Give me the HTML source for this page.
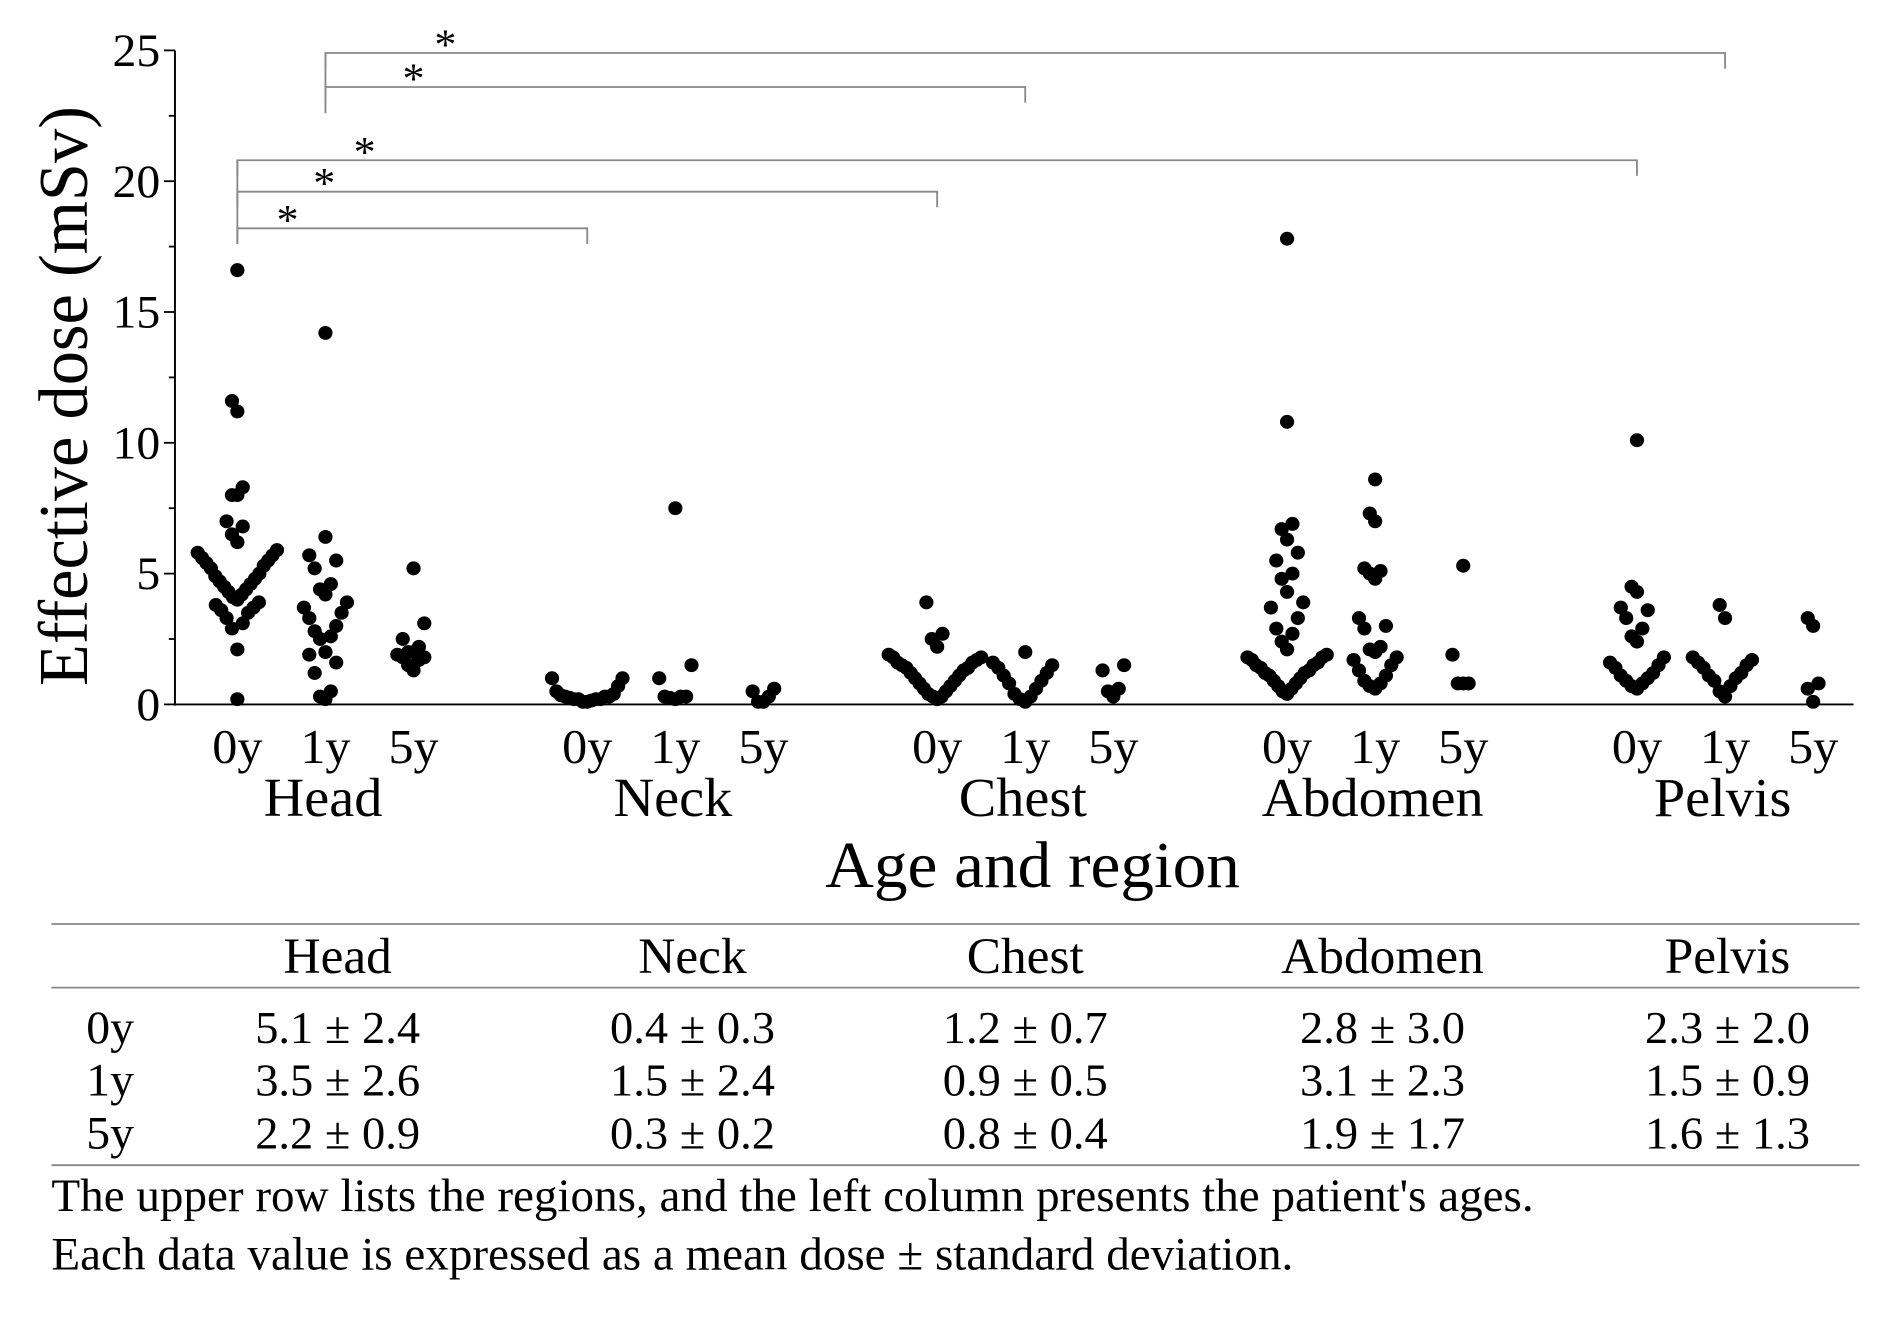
<!DOCTYPE html>
<html><head><meta charset="utf-8">
<style>
html,body{margin:0;padding:0;background:#fff;}
svg{display:block;font-family:"Liberation Serif",serif;}
</style></head>
<body>
<svg id="chart" width="1889" height="1320" viewBox="0 0 1544 1100" preserveAspectRatio="none" xmlns="http://www.w3.org/2000/svg">
<g id="axes"></g>
<g id="brackets" stroke="#888" stroke-width="1.5" fill="none"></g>
<g id="points"></g>
<g id="labels"></g>
<g id="table"></g>
</svg>
<script>
const regions = ["Head","Neck","Chest","Abdomen","Pelvis"];
const ages = ["0y","1y","5y"];
const yTicks = [0,5,10,15,20,25];
const head0 = [16.6,11.6,11.2,8.3,8.0,8.0,7.0,6.8,6.5,6.2,5.9,5.8,5.7,5.6,5.5,5.4,5.3,5.2,5.0,4.9,4.8,4.7,4.6,4.5,4.4,4.3,4.2,4.1,4.0,3.9,3.8,3.7,3.6,3.5,3.3,3.1,2.9,2.1,0.2];
const head1 = [14.2,6.4,5.7,5.5,5.2,4.6,4.4,4.2,3.9,3.7,3.5,3.3,3.0,2.8,2.6,2.5,2.0,1.9,1.6,1.2,0.5,0.3,0.2];
const head5 = [5.2,3.1,2.5,2.2,2.0,2.0,1.9,1.8,1.8,1.7,1.5,1.3];
const neck0 = [1.0,1.0,0.7,0.5,0.4,0.35,0.3,0.3,0.3,0.25,0.2,0.2,0.2,0.2,0.15,0.1,0.1];
const neck1 = [7.5,1.5,1.0,0.3,0.3,0.3,0.25,0.2];
const neck5 = [0.6,0.5,0.3,0.1,0.1];
const chest0 = [3.9,2.7,2.5,2.2,1.9,1.8,1.8,1.7,1.6,1.6,1.5,1.4,1.4,1.3,1.2,1.1,1.0,0.9,0.8,0.7,0.6,0.5,0.4,0.3,0.3,0.2];
const chest1 = [2.0,1.6,1.5,1.4,1.2,1.1,0.9,0.8,0.6,0.4,0.3,0.2,0.1];
const chest5 = [1.5,1.3,0.6,0.5,0.3];
const abd0 = [17.8,10.8,6.9,6.7,6.3,5.8,5.5,5.0,4.8,4.3,3.9,3.7,3.3,2.9,2.7,2.4,2.1,1.9,1.8,1.8,1.7,1.6,1.5,1.5,1.4,1.3,1.2,1.2,1.1,1.0,0.9,0.8,0.7,0.6,0.5,0.4];
const abd1 = [8.6,7.3,7.0,5.2,5.1,5.0,4.8,3.3,3.0,2.9,2.2,2.1,2.0,1.8,1.7,1.5,1.3,1.1,0.9,0.8,0.7,0.6];
const abd5 = [5.3,1.9,0.8,0.8,0.8];
const pelv0 = [10.1,4.5,4.3,3.7,3.6,3.3,2.9,2.6,2.4,1.8,1.6,1.5,1.4,1.2,1.1,1.0,0.9,0.8,0.7,0.6];
const pelv1 = [3.8,3.3,1.8,1.7,1.6,1.5,1.4,1.2,1.1,1.0,0.9,0.7,0.5,0.3];
const pelv5 = [3.3,3.0,0.8,0.6,0.1];
const groups = [head0,head1,head5,neck0,neck1,neck5,chest0,chest1,chest5,abd0,abd1,abd5,pelv0,pelv1,pelv5];
const tableMeans = [["5.1 ± 2.4","0.4 ± 0.3","1.2 ± 0.7","2.8 ± 3.0","2.3 ± 2.0"],["3.5 ± 2.6","1.5 ± 2.4","0.9 ± 0.5","3.1 ± 2.3","1.5 ± 0.9"],["2.2 ± 0.9","0.3 ± 0.2","0.8 ± 0.4","1.9 ± 1.7","1.6 ± 1.3"]];
// brackets: [fromGroupIndex, toGroupIndex, value level]
const brackets = [[0,3,18.2],[0,6,19.6],[0,12,20.8],[1,7,23.6],[1,13,24.9]];

const NS="http://www.w3.org/2000/svg";
function mk(tag,attrs,parent,text){const e=document.createElementNS(NS,tag);for(const k in attrs)e.setAttribute(k,attrs[k]);if(text!==undefined)e.textContent=text;parent.appendChild(e);return e;}
const y=v=>587-v*(545/25);
const gx=i=>194+Math.floor(i/3)*286+(i%3)*72;

const axes=document.getElementById('axes');
let l=mk('line',{x1:143,y1:42,x2:143,y2:588,stroke:'#000','stroke-width':1.6},axes);

l=mk('line',{x1:142,y1:587,x2:1515,y2:587,stroke:'#000','stroke-width':1.6},axes);

for(let v=0;v<=25;v+=2.5){mk('line',{x1:v%5===0?134:138,y1:y(v),x2:143,y2:y(v),stroke:'#000','stroke-width':1.5},axes);}
const labels=document.getElementById('labels');
yTicks.forEach(v=>{const t=mk('text',{x:131,y:y(v)+13,'text-anchor':'end','font-size':39},labels,String(v));
});
for(let i=0;i<15;i++){const t=mk('text',{x:gx(i),y:636,'text-anchor':'middle','font-size':41},labels,ages[i%3]);
}
regions.forEach((r,k)=>{const t=mk('text',{x:gx(k*3+1)-2,y:680,'text-anchor':'middle','font-size':46},labels,r);
});
let t=mk('text',{x:844,y:739,'text-anchor':'middle','font-size':55},labels,'Age and region');

t=mk('text',{x:0,y:0,'text-anchor':'middle','font-size':57,transform:'translate(71,330) rotate(-90)'},labels,'Effective dose (mSv)');


// brackets
const br=document.getElementById('brackets');
brackets.forEach((b,k)=>{const x1=gx(b[0]),x2=gx(b[1]),yy=y(b[2]);
const p=mk('path',{d:`M${x1},${yy+13}V${yy}H${x2}V${yy+13}`},br);

const s=mk('text',{x:x1+(b[0]===0?[41,71,104][k]:[72,98][k-3]),y:yy+5,'text-anchor':'middle','font-size':36,fill:'#000',stroke:'none'},br,'*');
});
mk('line',{x1:gx(0),y1:y(17.6),x2:gx(0),y2:y(20.8)},br);
mk('line',{x1:gx(1),y1:y(22.6),x2:gx(1),y2:y(24.9)},br);

// V-shaped swarm: within each 2-unit bin, ascending values spread alternately outward
const pts=document.getElementById('points');const R=5.8;const BIN=2;
groups.forEach((arr,gi)=>{const cx=gx(gi);const bins={};
[...arr].sort((a,b)=>a-b).forEach(v=>{const b=Math.floor(v/BIN);bins[b]=bins[b]||[];bins[b].push(v);});
Object.values(bins).forEach(list=>{const dx=list.length>12?3.6:4.4;
list.forEach((v,i)=>{const off=i===0?0:(i%2?-1:1)*Math.ceil(i/2)*dx;
const c=mk('circle',{cx:cx+off,cy:y(v),r:R,fill:'#000'},pts);
});});});

// table
const tb=document.getElementById('table');
[770,823,971].forEach(yy=>mk('line',{x1:42,y1:yy,x2:1520,y2:yy,stroke:'#888','stroke-width':1.5},tb));
const colX=[276,566,838,1130,1412];
regions.forEach((r,k)=>{const e=mk('text',{x:colX[k],y:811,'text-anchor':'middle','font-size':42},tb,r);
});
tableMeans.forEach((row,ri)=>{const yy=869+ri*44;
const a=mk('text',{x:90,y:yy,'text-anchor':'middle','font-size':39},tb,ages[ri]);

row.forEach((v,k)=>{const e=mk('text',{x:colX[k],y:yy,'text-anchor':'middle','font-size':38},tb,v);
});});
let n=mk('text',{x:42,y:1009,'font-size':38.5},tb,"The upper row lists the regions, and the left column presents the patient's ages.");

n=mk('text',{x:42,y:1058,'font-size':38.5},tb,"Each data value is expressed as a mean dose ± standard deviation.");

</script>
</body></html>
